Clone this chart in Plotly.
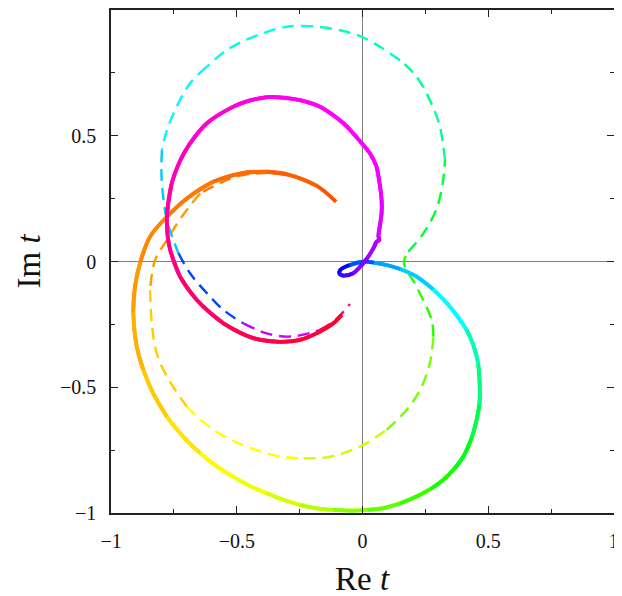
import colorsys
import plotly.graph_objects as go

# ---- data: solid curve (Re t, Im t, phase in degrees) ----
solid_re = [-0.105, -0.18, -0.29, -0.38, -0.487, -0.594, -0.70, -0.778, -0.845, -0.885,
            -0.905, -0.912, -0.90, -0.872, -0.83, -0.778, -0.715, -0.646, -0.58, -0.515,
            -0.45, -0.381, -0.315, -0.249, -0.18, -0.116, -0.037, 0.02, 0.083, 0.15,
            0.215, 0.27, 0.321, 0.365, 0.401, 0.435, 0.454, 0.465, 0.467, 0.46,
            0.44, 0.414, 0.348, 0.28, 0.215, 0.15, 0.096, 0.045, 0.003, -0.05,
            -0.089, -0.092, -0.075, -0.037, -0.003, 0.02, 0.043, 0.056, 0.067, 0.063,
            0.076, 0.076, 0.07, 0.056, 0.03, -0.003, -0.076, -0.169, -0.249, -0.368,
            -0.45, -0.514, -0.619, -0.686, -0.726, -0.759, -0.778, -0.775, -0.765, -0.726,
            -0.659, -0.553, -0.434, -0.328, -0.249, -0.169, -0.116, -0.083]
solid_im = [0.237, 0.30, 0.344, 0.357, 0.35, 0.317, 0.25, 0.178, 0.099, -0.006,
            -0.10, -0.20, -0.33, -0.431, -0.53, -0.617, -0.695, -0.762, -0.815, -0.856,
            -0.892, -0.922, -0.948, -0.968, -0.982, -0.988, -0.991, -0.988, -0.981, -0.962,
            -0.935, -0.905, -0.869, -0.825, -0.776, -0.70, -0.630, -0.57, -0.511, -0.405,
            -0.33, -0.272, -0.18, -0.11, -0.06, -0.03, -0.014, -0.004, -0.001, -0.014,
            -0.034, -0.048, -0.056, -0.047, -0.014, 0.015, 0.052, 0.079, 0.085, 0.099,
            0.192, 0.245, 0.297, 0.377, 0.43, 0.47, 0.55, 0.616, 0.642, 0.655,
            0.64, 0.616, 0.55, 0.47, 0.40, 0.311, 0.178, 0.10, 0.046, -0.06,
            -0.153, -0.246, -0.305, -0.32, -0.312, -0.279, -0.246, -0.213]
solid_phase = [18, 19, 21, 22, 24, 26, 27, 28, 30, 32,
               34, 36, 39, 42, 45, 48, 51, 54, 57, 59,
               61, 63, 66, 69, 73, 77, 83, 88, 93, 98,
               103, 107, 111, 115, 119, 126, 133, 138, 143, 152,
               158, 163, 172, 180, 186, 192, 197, 202, 207, 220,
               235, 243, 250, 257, 265, 270, 277, 281, 283, 284,
               290, 293, 295, 297, 298, 299, 300, 301, 302, 303,
               305, 306, 308, 311, 313, 316, 320, 323, 325, 329,
               333, 337, 340, 343, 345, 347, 348, 349]

# ---- dashed curve ----
dash_re = [-0.30, -0.394, -0.487, -0.56, -0.646, -0.719, -0.778, -0.825, -0.845, -0.838,
           -0.82, -0.778, -0.699, -0.593, -0.46, -0.341, -0.235, -0.142, -0.07, 0.003,
           0.096, 0.176, 0.229, 0.268, 0.282, 0.275, 0.215, 0.165, 0.182, 0.242,
           0.295, 0.321, 0.328, 0.308, 0.268, 0.215, 0.149, 0.07, -0.003, -0.089,
           -0.196, -0.301, -0.434, -0.54, -0.619, -0.686, -0.739, -0.778, -0.798, -0.80,
           -0.798, -0.778, -0.732, -0.686, -0.619, -0.553, -0.474, -0.381, -0.301, -0.24,
           -0.17, -0.11, -0.05]
dash_im = [0.352, 0.352, 0.342, 0.315, 0.271, 0.178, 0.085, 0.006, -0.113, -0.246,
           -0.36, -0.458, -0.577, -0.67, -0.736, -0.773, -0.783, -0.779, -0.76, -0.73,
           -0.67, -0.59, -0.511, -0.405, -0.299, -0.233, -0.10, -0.005, 0.039, 0.112,
           0.211, 0.324, 0.404, 0.536, 0.642, 0.735, 0.801, 0.854, 0.894, 0.92,
           0.936, 0.934, 0.894, 0.841, 0.775, 0.709, 0.616, 0.523, 0.443, 0.37,
           0.311, 0.165, 0.033, -0.047, -0.126, -0.193, -0.246, -0.286, -0.299, -0.292,
           -0.272, -0.235, -0.169]
dash_phase = [24, 26, 28, 30, 32, 35, 37, 39, 42, 45,
              48, 51, 54, 57, 60, 63, 66, 69, 72, 76,
              81, 87, 92, 98, 103, 106, 112, 116, 119, 124,
              132, 140, 146, 152, 156, 159, 162, 164, 166, 168,
              170, 172, 174, 176, 178, 179, 181, 183, 185, 187,
              190, 197, 205, 212, 220, 232, 250, 272, 292, 305,
              320, 332, 345]

tick_vals = [-1, -0.5, 0, 0.5, 1]
tick_text = ["\u22121", "\u22120.5", "0", "0.5", "1"]
minor_vals = [-0.75, -0.25, 0.25, 0.75]


def hue_color(deg):
    r, g, b = colorsys.hsv_to_rgb((deg % 360) / 360.0, 1.0, 1.0)
    return "rgb(%d,%d,%d)" % (round(r * 255), round(g * 255), round(b * 255))


def add_curve(fig, xs, ys, hs, chunk, width, dash, overlap):
    n = len(xs)
    i = 0
    while i < n - 1:
        j = min(i + chunk, n - 1)
        h = sum(hs[i:j + 1]) / (j - i + 1)
        a = max(i - overlap, 0)
        b = min(j + overlap, n - 1)
        fig.add_trace(go.Scatter(
            x=xs[a:b + 1], y=ys[a:b + 1], mode="lines",
            line=dict(color=hue_color(h), width=width, dash=dash,
                      shape="spline", smoothing=1.0),
            hoverinfo="skip", showlegend=False))
        i = j


fig = go.Figure()
add_curve(fig, dash_re, dash_im, dash_phase, 4, 2.4, "12px,7px", 0)
add_curve(fig, solid_re, solid_im, solid_phase, 2, 3.8, "solid", 1)

font_family = "Liberation Serif, DejaVu Serif, serif"
axis_common = dict(
    range=[-1.0005, 1.0005], tickvals=tick_vals, ticktext=tick_text,
    ticks="inside", ticklen=7, tickwidth=1.3, tickcolor="#222",
    showline=True, linecolor="#222", linewidth=1.5, mirror="ticks",
    showgrid=False, zeroline=True, zerolinecolor="#808080", zerolinewidth=1.2,
    tickfont=dict(family=font_family, size=20, color="#111"),
    automargin=False,
    minor=dict(tickvals=minor_vals, ticks="inside", ticklen=4,
               tickwidth=1.3, tickcolor="#222"),
)

# the page body adds an 8px offset, so the figure is sized to the remaining view
fig.update_layout(
    width=614, height=588,
    margin=dict(l=103, r=8, t=2, b=83),
    paper_bgcolor="white", plot_bgcolor="white",
    xaxis=dict(**axis_common, ticklabelstandoff=9),
    yaxis=dict(**axis_common, ticklabelstandoff=9),
    annotations=[
        dict(text="Re <i>t</i>", xref="paper", yref="paper", x=0.5, y=0,
             xanchor="center", yanchor="middle", yshift=-66, showarrow=False,
             font=dict(family=font_family, size=33, color="#111")),
        dict(text="Im <i>t</i>", xref="paper", yref="paper", x=0, y=0.5,
             xanchor="center", yanchor="middle", xshift=-83, textangle=-90,
             showarrow=False,
             font=dict(family=font_family, size=33, color="#111")),
    ],
)

fig.write_html("out.html")
